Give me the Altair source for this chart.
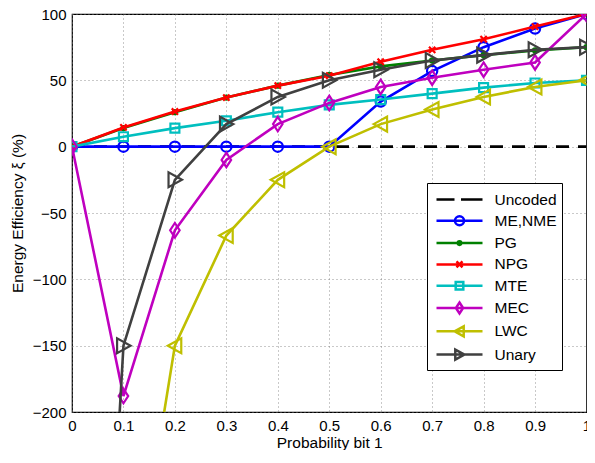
import altair as alt
import pandas as pd

# ---- data ----
x_vals = [0.0, 0.1, 0.2, 0.3, 0.4, 0.5, 0.6, 0.7, 0.8, 0.9, 1.0]
uncoded = [0, 0, 0, 0, 0, 0, 0, 0, 0, 0, 0]
me_nme = [0, 0, 0, 0, 0, 0, 34, 57, 75, 89, 100]
pg = [0, 14, 26, 37, 46, 54, 60.5, 65, 69, 72.5, 75]
npg = [0, 14.5, 26.5, 37, 46, 53.5, 64, 73, 81, 90.5, 100]
mte = [0, 7.5, 14, 19.5, 26, 31.5, 35.5, 40, 44.5, 48, 50]
mec = [0, -188, -63, -10, 17, 33, 45, 52, 58, 63.5, 100]
lwc_x = [0.1, 0.2, 0.3, 0.4, 0.5, 0.6, 0.7, 0.8, 0.9, 1.0]
lwc = [-390, -150, -67, -25, 0, 17, 28, 37.5, 45, 50]
unary = [-835, -150, -25, 17, 37.5, 50, 58, 65, 69, 73, 75]

series_names = ["Uncoded", "ME,NME", "PG", "NPG", "MTE", "MEC", "LWC", "Unary"]
series_colors = ["#000000", "#0000FF", "#008000", "#FF0000", "#00BFBF",
                 "#BF00BF", "#BFBF00", "#404040"]
x_ticks = [0, 0.1, 0.2, 0.3, 0.4, 0.5, 0.6, 0.7, 0.8, 0.9, 1]
y_ticks = [-200, -150, -100, -50, 0, 50, 100]

series_data = {
    "Uncoded": (x_vals, uncoded),
    "ME,NME": (x_vals, me_nme),
    "PG": (x_vals, pg),
    "NPG": (x_vals, npg),
    "MTE": (x_vals, mte),
    "MEC": (x_vals, mec),
    "LWC": (lwc_x, lwc),
    "Unary": (x_vals, unary),
}

rows = []
for name in series_names:
    xs, ys = series_data[name]
    for xv, yv in zip(xs, ys):
        rows.append({"series": name, "p": xv, "eff": yv})
df = pd.DataFrame(rows)

# marker shapes on the plot (custom paths, unit scaled by sqrt(size)/2)
CIRCLE = "circle"
XMARK = "M-1,-1L1,1M-1,1L1,-1"
SQUARE = "M-1,-1H1V1H-1Z"
DIAMOND = "M0,-1.45L0.95,0L0,1.45L-0.95,0Z"
TRI_LEFT = "M-1,0L0.9,-1.05L0.9,1.05Z"
TRI_RIGHT = "M1,0L-0.9,-1.05L-0.9,1.05Z"

marker_style = {
    "ME,NME": dict(shape=CIRCLE, size=105, filled=False),
    "PG": dict(shape=CIRCLE, size=40, filled=True),
    "NPG": dict(shape=XMARK, size=40, filled=False),
    "MTE": dict(shape=SQUARE, size=80, filled=False),
    "MEC": dict(shape=DIAMOND, size=100, filled=False),
    "LWC": dict(shape=TRI_LEFT, size=200, filled=False),
    "Unary": dict(shape=TRI_RIGHT, size=200, filled=False),
}

FONT = "Liberation Sans"
W, H = 514.5, 398

xscale = alt.Scale(domain=[0, 1], nice=False, zero=False)
yscale = alt.Scale(domain=[-200, 100], nice=False, zero=False)

xenc = alt.X("p:Q", scale=xscale, axis=alt.Axis(
    values=x_ticks, format="~g", title="Probability bit 1",
    grid=True, gridDash=[1, 3], gridColor="#777777", gridWidth=0.8,
    tickSize=0, labelPadding=6, domain=False,
    labelFontSize=15, titleFontSize=15.5, labelFont=FONT, titleFont=FONT,
    labelColor="black", titleColor="black", titleFontWeight="normal",
    titleY=38, titleBaseline="bottom", labelFlush=False))
yenc = alt.Y("eff:Q", scale=yscale, axis=alt.Axis(
    values=y_ticks, format="d", title="Energy Efficiency \u03be (%)",
    grid=True, gridDash=[1, 3], gridColor="#777777", gridWidth=0.8,
    tickSize=0, labelPadding=6, domain=False,
    labelFontSize=15, titleFontSize=15.5, labelFont=FONT, titleFont=FONT,
    labelColor="black", titleColor="black", titleFontWeight="normal",
    titleX=-55, titleBaseline="middle", labelFlush=False))

base = alt.Chart(df)
layers = []
for name, color in zip(series_names, series_colors):
    sub = base.transform_filter(alt.datum.series == name)
    if name == "Uncoded":
        layers.append(sub.mark_line(color=color, strokeWidth=2.8, strokeDash=[13, 9],
                                    clip=True).encode(x=xenc, y=yenc))
        continue
    layers.append(sub.mark_line(color=color, strokeWidth=2.6, clip=True).encode(
        x=xenc, y=yenc))
    st = marker_style[name]
    if st["filled"]:
        pt = sub.mark_point(shape=st["shape"], size=st["size"], filled=True,
                            color=color, opacity=1, clip=True)
    else:
        pt = sub.mark_point(shape=st["shape"], size=st["size"], filled=False,
                            color=color, strokeWidth=2.2, opacity=1, clip=True)
    layers.append(pt.encode(x=xenc, y=yenc))

# legend symbols: line segment + marker (unit = sqrt(size)/2 = 10 px)
legend_paths = [
    "M-2.3,0H-0.5M0.15,0H2.3",
    "M-2.3,0H2.3M0.45,0A0.45,0.45 0 1,1 -0.45,0A0.45,0.45 0 1,1 0.45,0",
    "M-2.3,0H2.3M0.18,0A0.18,0.18 0 1,1 -0.18,0A0.18,0.18 0 1,1 0.18,0",
    "M-2.3,0H2.3M-0.3,-0.3L0.3,0.3M-0.3,0.3L0.3,-0.3",
    "M-2.3,0H2.3M-0.38,-0.38H0.38V0.38H-0.38Z",
    "M-2.3,0H2.3M0,-0.55L0.36,0L0,0.55L-0.36,0Z",
    "M-2.3,0H2.3M-0.5,0L0.42,-0.5L0.42,0.5Z",
    "M-2.3,0H2.3M0.5,0L-0.42,-0.5L-0.42,0.5Z",
]
legend_df = pd.DataFrame({"series": series_names})
legend_layer = alt.Chart(legend_df).mark_point(opacity=0, filled=False).encode(
    color=alt.Color("series:N", scale=alt.Scale(domain=series_names, range=series_colors),
                    legend=alt.Legend(title=None, orient="none", legendX=355, legendY=169,
                                      titleFontSize=0, titlePadding=0,
                                      symbolSize=400, symbolStrokeWidth=2.5,
                                      symbolOpacity=1, symbolOffset=16, labelOffset=23.5,
                                      labelFontSize=15.5, labelFont=FONT, labelColor="black",
                                      strokeColor="black", fillColor="white", padding=5,
                                      rowPadding=1.3, labelLimit=300)),
    shape=alt.Shape("series:N", scale=alt.Scale(domain=series_names, range=legend_paths)),
)
layers.append(legend_layer)

chart = alt.layer(*layers).properties(
    width=W, height=H,
    autosize=alt.AutoSizeParams(type="none"),
    padding={"left": 64, "top": 6, "right": 0.5, "bottom": 38},
    background="white",
).configure_view(stroke="black", strokeWidth=1.2)

chart.save("out.html", embed_options={"renderer": "svg", "actions": False})
